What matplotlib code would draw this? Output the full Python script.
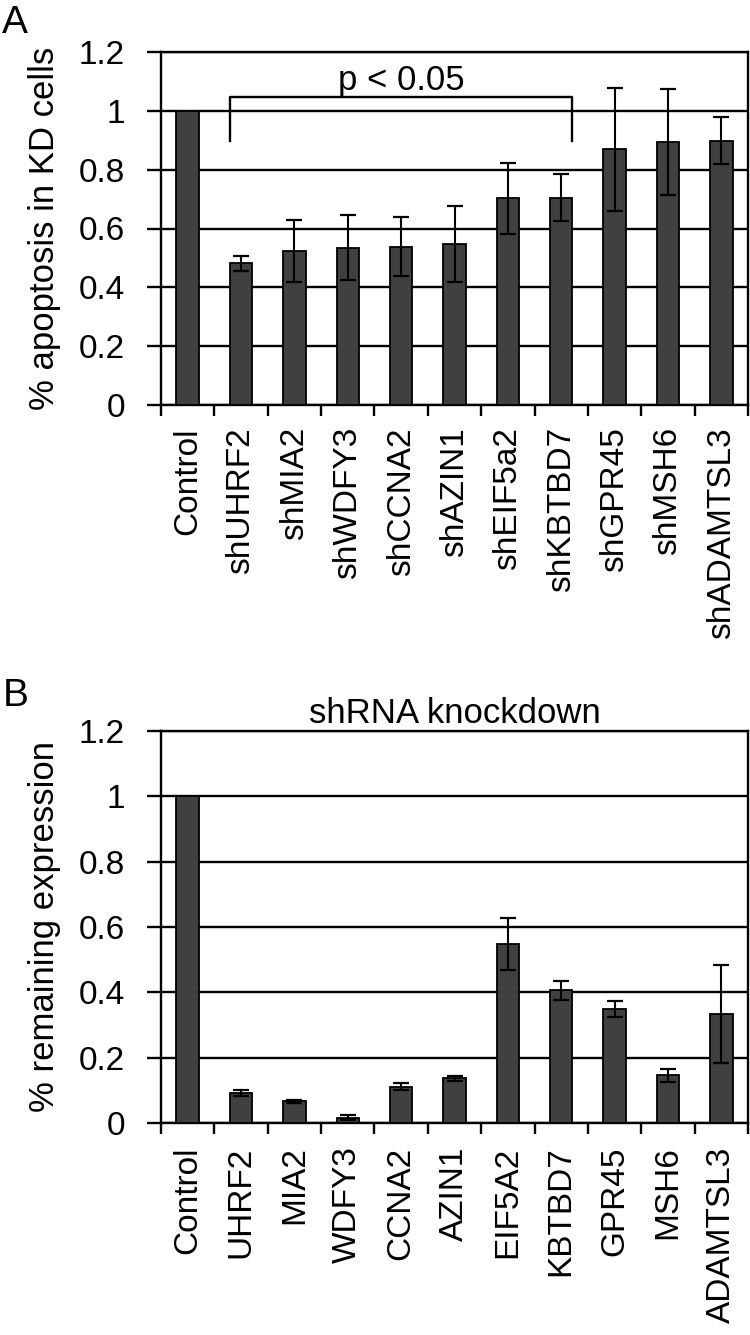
import matplotlib
matplotlib.use('Agg')
import matplotlib.pyplot as plt
import numpy as np

plt.rcParams['font.family'] = ['Liberation Sans', 'DejaVu Sans']

# panel A - apoptosis after knockdown
labels_a = ['Control', 'shUHRF2', 'shMIA2', 'shWDFY3', 'shCCNA2', 'shAZIN1',
            'shEIF5a2', 'shKBTBD7', 'shGPR45', 'shMSH6', 'shADAMTSL3']
apop = [1.0, 0.482, 0.524, 0.535, 0.538, 0.547, 0.703, 0.705, 0.869, 0.894, 0.899]
apop_err = [0.0, 0.025, 0.105, 0.11, 0.1, 0.13, 0.12, 0.08, 0.21, 0.18, 0.08]

# panel B - remaining expression
labels_b = ['Control', 'UHRF2', 'MIA2', 'WDFY3', 'CCNA2', 'AZIN1',
            'EIF5A2', 'KBTBD7', 'GPR45', 'MSH6', 'ADAMTSL3']
expr = [1.0, 0.092, 0.066, 0.016, 0.111, 0.137, 0.549, 0.406, 0.348, 0.146, 0.334]
expr_err = [0.0, 0.008, 0.004, 0.007, 0.01, 0.008, 0.08, 0.03, 0.025, 0.02, 0.15]

yticks = [0, 0.2, 0.4, 0.6, 0.8, 1.0, 1.2]
ytick_labels = ['0', '0.2', '0.4', '0.6', '0.8', '1', '1.2']

W, H = 750, 1335
fig = plt.figure(figsize=(7.5, 13.35), dpi=100)
axA = fig.add_axes([161/W, 1 - 405/H, 587/W, 353/H])
axB = fig.add_axes([161/W, 1 - 1123/H, 587/W, 392/H])

bw = 0.42
lw = 1.7


def draw_panel(ax, labels, vals, errs, ylabel, xpad):
    x = np.arange(len(labels))
    ax.bar(x, vals, width=bw, color='#404040', edgecolor='black', linewidth=1.3, zorder=3)
    ax.errorbar(x[1:], vals[1:], yerr=errs[1:], fmt='none', ecolor='black',
                elinewidth=1.5, capsize=6, capthick=1.6, zorder=4)
    ax.set_xlim(-0.5, len(labels) - 0.5)
    ax.set_ylim(0, 1.2)
    ax.set_yticks(yticks, ytick_labels)
    ax.yaxis.grid(True, color='black', linewidth=lw)
    ax.set_axisbelow(True)
    ax.set_xticks(x, labels, rotation=90)
    ax.set_xticks(np.arange(-0.5, len(labels), 1), minor=True)
    ax.tick_params(axis='x', which='major', length=0, pad=xpad, labelsize=24)
    ax.tick_params(axis='x', which='minor', length=8, width=lw, direction='out')
    ax.tick_params(axis='y', length=10, width=lw, direction='out', pad=16, labelsize=24)
    for s in ax.spines.values():
        s.set_linewidth(lw)
    ax.set_ylabel(ylabel, fontsize=25)
    ax.yaxis.set_label_coords(-0.17, 0.5)


draw_panel(axA, labels_a, apop, apop_err, '% apoptosis in KD cells', 16)
draw_panel(axB, labels_b, expr, expr_err, '% remaining expression', 17)

# significance bracket
y_top, y_leg = 1.046, 0.896
axA.plot([1 - bw/2, 1 - bw/2, 7 + bw/2, 7 + bw/2], [y_leg, y_top, y_top, y_leg],
         color='black', linewidth=lw, zorder=5)
axA.text(4.0, 1.072, 'p < 0.05', ha='center', va='baseline', fontsize=25)

axB.set_title('shRNA knockdown', fontsize=25, pad=6)

fig.text(0.003, 1 - 5/H, 'A', ha='left', va='top', fontsize=28)
fig.text(0.003, 1 - 678/H, 'B', ha='left', va='top', fontsize=28)

fig.savefig('out.png', dpi=100)
